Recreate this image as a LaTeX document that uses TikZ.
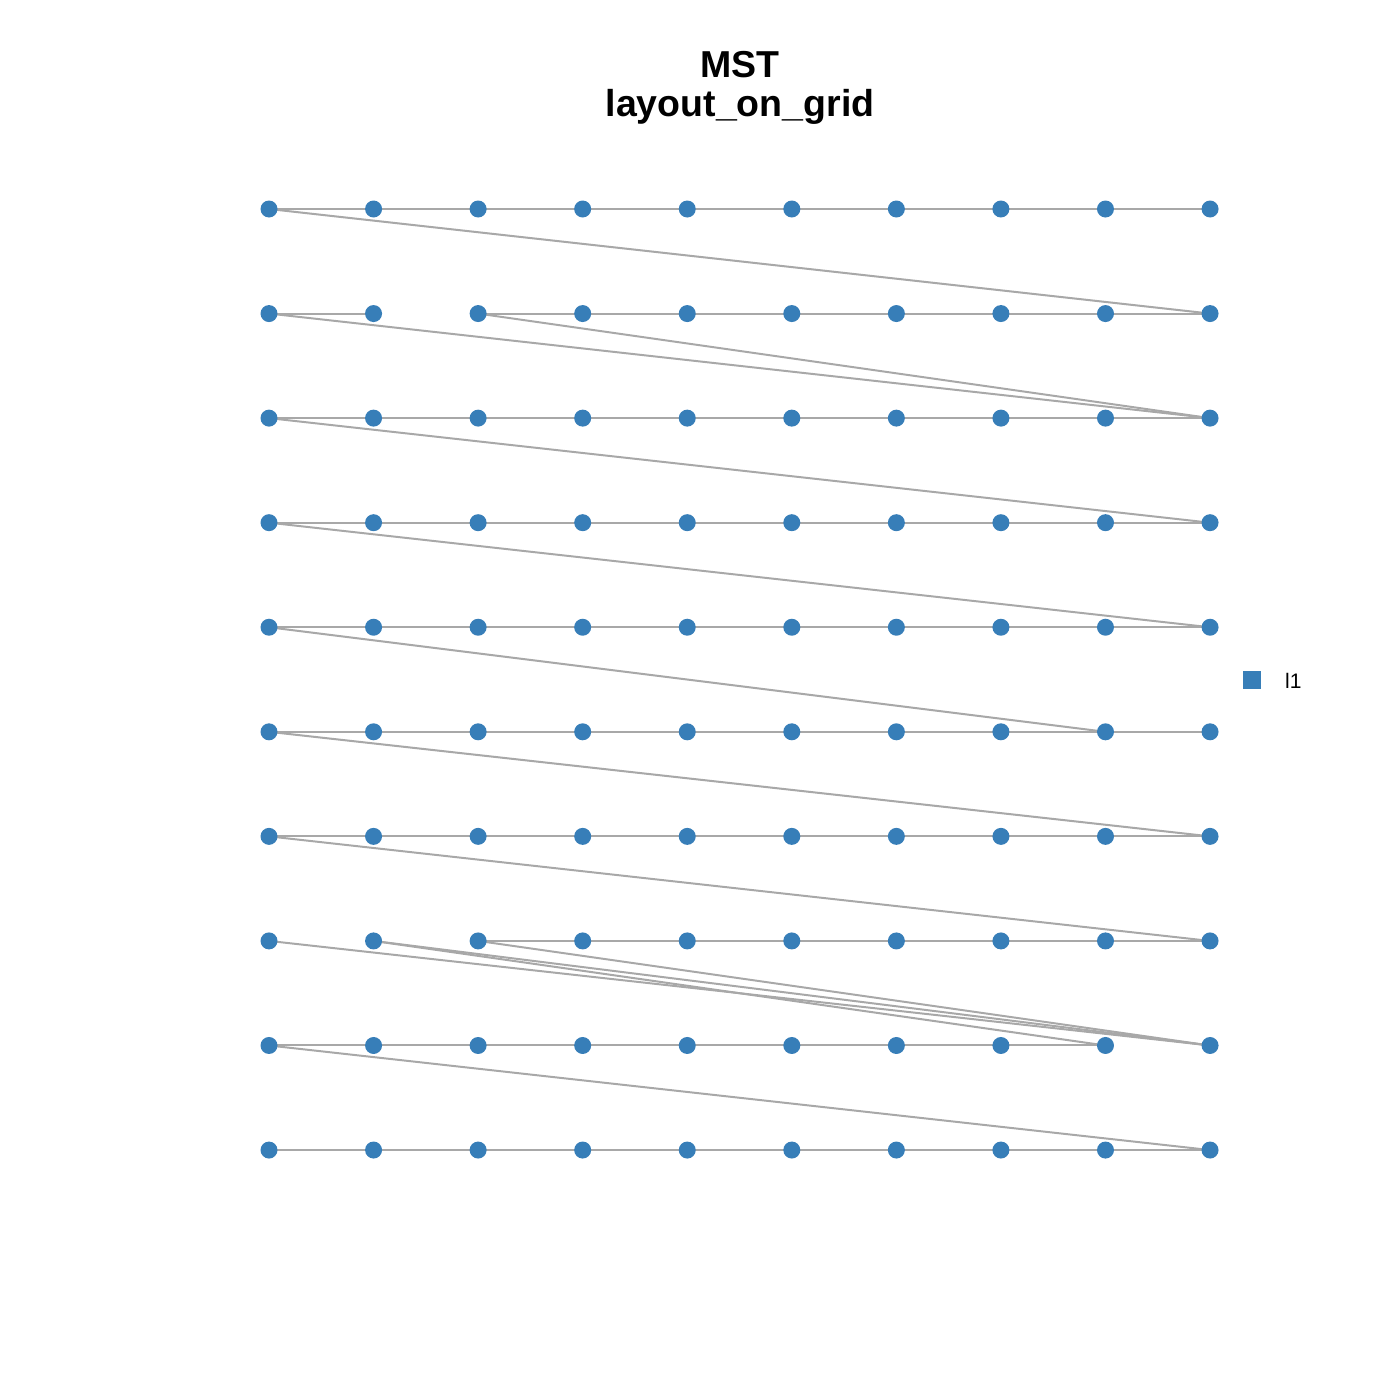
\documentclass[tikz,border=0pt]{standalone}
\usepackage{fontspec}
\setmainfont{Liberation Sans}
\usepackage{xcolor}
\usepackage{tikz}

\definecolor{dotblue}{HTML}{377EB8}
\definecolor{linkgray}{HTML}{A8A8A8}
\pgfdeclarelayer{bg}
\pgfsetlayers{bg,main}

\begin{document}
\begin{tikzpicture}[x=1pt, y=-1pt, line cap=round, line join=round,
    vtx/.style={circle, fill=dotblue, inner sep=0pt, minimum size=17pt},
    link/.style={draw=linkgray, line width=2pt},
    titletext/.style={anchor=base, font=\bfseries\fontsize{37.5}{45}\selectfont}]
    \useasboundingbox (0,0) rectangle (1400,1400);

    % Title
    \node[titletext] (title) at (740,77) {MST};
    \node[titletext] (subtitle) at (740,116) {layout\_on\_grid};

    % Nodes
    \foreach \r in {1,...,10}
      \foreach \c in {1,...,10}
        \node[vtx] (n-\r-\c) at ({269+(\c-1)*104.56},{209+(\r-1)*104.56}) {};

    % Connections
    \begin{pgfonlayer}{bg}
    \foreach \r/\a/\b in {1/1/10, 2/1/2, 2/3/10, 3/1/10, 4/1/10, 5/1/10,
                          6/1/10, 7/1/10, 8/3/10, 9/1/9, 10/1/10} {
      \pgfmathtruncatemacro{\last}{\b-1}
      \foreach \c in {\a,...,\last} {
        \pgfmathtruncatemacro{\nxt}{\c+1}
        \draw[link] (n-\r-\c.center) -- (n-\r-\nxt.center);
      }
    }
    \foreach \s/\t in {1-1/2-10, 2-1/3-10, 2-3/3-10, 3-1/4-10, 4-1/5-10,
                       5-1/6-9, 6-1/7-10, 7-1/8-10, 8-1/9-10, 8-2/9-10,
                       8-2/9-9, 8-3/9-10, 9-1/10-10}
      \draw[link] (n-\s.center) -- (n-\t.center);
    \end{pgfonlayer}

    % Legend
    \node[fill=dotblue, inner sep=0pt, minimum size=18pt] (key) at (1252,680) {};
    \node[anchor=west, inner sep=0pt, font=\fontsize{21}{25}\selectfont] (keylabel) at (1285,681) {l1};
\end{tikzpicture}
\end{document}
